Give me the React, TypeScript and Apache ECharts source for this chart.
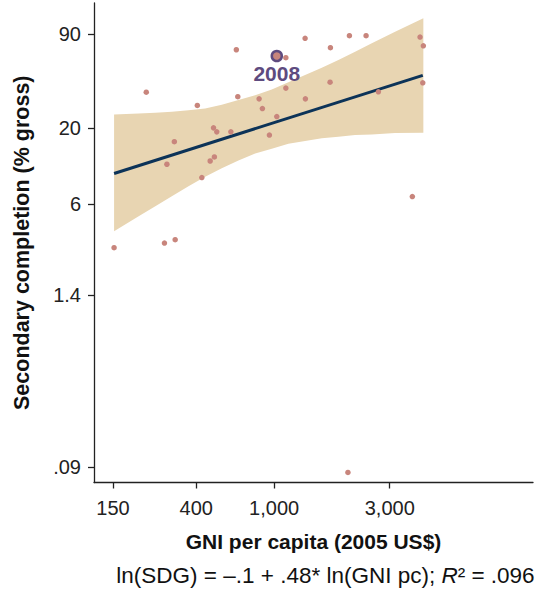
import React, { useEffect, useRef } from "react";
import * as echarts from "echarts";

// GNI per capita (2005 US$) and secondary completion (% gross)
const gniPerCapita = [641, 1440, 1148, 222, 1148, 652, 838, 1445, 405, 871, 1032, 490, 509, 601, 309, 946, 283, 471, 495, 427, 152, 275, 312, 2426, 2952, 1940, 5572, 5793, 1932, 5754, 3412, 5089, 2384];
const secondaryCompletion = [70.3, 84.4, 61.9, 35.7, 38.1, 33.2, 32.1, 32.1, 28.9, 27.5, 24.2, 20.2, 18.95, 18.95, 16.2, 18.0, 11.3, 11.9, 12.7, 9.14, 2.98, 3.21, 3.39, 88.0, 88.0, 72.6, 86.1, 74.9, 41.9, 41.5, 35.9, 6.75, 0.0824];

// highlighted year
const highlightGni = [1032];
const highlightSdg = [63.6];
const highlightLabel = "2008";

// fitted line end points
const fitGni = [152, 5754];
const fitSdg = [9.74, 46.7];

// confidence band
const bandGni = [152, 203, 247, 300, 365, 444, 540, 657, 800, 973, 1183, 1440, 1753, 2131, 2594, 3157, 4153, 5793];
const bandUpper = [25.0, 25.4, 25.7, 26.1, 26.8, 27.5, 29.2, 31.5, 34.0, 37.3, 41.9, 46.9, 52.8, 59.6, 68.2, 77.9, 93.8, 116.1];
const bandLower = [3.87, 4.93, 5.78, 6.78, 7.95, 9.25, 10.6, 12.0, 13.4, 14.5, 15.7, 16.4, 17.1, 17.5, 18.0, 18.2, 18.6, 18.7];

// ticks
const xTickValues = [150, 400, 1000, 3900];
const xTickLabels = ["150", "400", "1,000", "3,000"];
const yTickValues = [90, 20, 6, 1.4, 0.09];
const yTickLabels = ["90", "20", "6", "1.4", ".09"];

// axis ranges
const xRange = [120, 21060];
const yRange = [0.0702, 148.3];

const L = (v: number) => Math.log10(v);
const FONT = "'Liberation Sans', Arial, sans-serif";
const POINT = "#C8857C";
const PURPLE = "#5E4B7F";

function labelFor(values: number[], labels: string[]) {
  return (v: number) => {
    const i = values.findIndex((t) => Math.abs(L(t) - v) < 1e-6);
    return i >= 0 ? labels[i] : "";
  };
}

export default function App() {
  const ref = useRef<HTMLDivElement>(null);
  useEffect(() => {
    if (!ref.current) return;
    const chart = echarts.init(ref.current, undefined, { renderer: "svg" });
    const option: any = {
      animation: false,
      backgroundColor: "#ffffff",
      textStyle: { fontFamily: FONT },
      grid: { left: 94, right: 5, top: 3, bottom: 109, containLabel: false },
      xAxis: {
        type: "value",
        min: L(xRange[0]),
        max: L(xRange[1]),
        axisLine: { show: true, onZero: false, lineStyle: { color: "#222", width: 1.3 } },
        axisTick: { show: true, length: 6, customValues: xTickValues.map(L), lineStyle: { color: "#222", width: 1.3 } },
        axisLabel: {
          customValues: xTickValues.map(L),
          formatter: labelFor(xTickValues, xTickLabels),
          fontSize: 20,
          color: "#222",
          margin: 15,
          fontFamily: FONT,
        },
        splitLine: { show: false },
        name:
          "{b|GNI per capita (2005 US$)}\n{p|ln(SDG) = –.1 + .48* ln(GNI pc); }{i|R}{n|² = .096}",
        nameLocation: "middle",
        nameGap: 44,
        nameTextStyle: {
          rich: {
            b: { fontSize: 21, fontWeight: "bold", color: "#111", lineHeight: 30, fontFamily: FONT },
            p: { fontSize: 22.5, color: "#111", lineHeight: 38, fontFamily: FONT, padding: [0, 0, 0, 24] },
            n: { fontSize: 22.5, color: "#111", lineHeight: 38, fontFamily: FONT },
            i: { fontSize: 22.5, fontStyle: "italic", color: "#111", lineHeight: 38, fontFamily: FONT },
          },
        },
      },
      yAxis: {
        type: "value",
        min: L(yRange[0]),
        max: L(yRange[1]),
        axisLine: { show: true, onZero: false, lineStyle: { color: "#222", width: 1.3 } },
        axisTick: { show: true, length: 6, customValues: yTickValues.map(L), lineStyle: { color: "#222", width: 1.3 } },
        axisLabel: {
          customValues: yTickValues.map(L),
          formatter: labelFor(yTickValues, yTickLabels),
          fontSize: 20,
          color: "#222",
          margin: 13,
          fontFamily: FONT,
        },
        splitLine: { show: false },
        name: "Secondary completion (% gross)",
        nameLocation: "middle",
        nameRotate: 90,
        nameGap: 61,
        nameTextStyle: { fontSize: 21.5, fontWeight: "bold", color: "#111", fontFamily: FONT },
      },
      series: [
        {
          type: "custom",
          silent: true,
          z: 1,
          data: [[L(bandGni[0]), L(bandLower[0])]],
          renderItem: (_params: any, api: any) => {
            const pts: number[][] = [];
            for (let i = 0; i < bandGni.length; i++) pts.push(api.coord([L(bandGni[i]), L(bandUpper[i])]));
            for (let i = bandGni.length - 1; i >= 0; i--) pts.push(api.coord([L(bandGni[i]), L(bandLower[i])]));
            return { type: "polygon", shape: { points: pts }, style: { fill: "#E8D5B2", stroke: null } };
          },
        },
        {
          type: "line",
          z: 3,
          symbol: "none",
          silent: true,
          data: fitGni.map((g, i) => [L(g), L(fitSdg[i])]),
          lineStyle: { color: "#0C3358", width: 3 },
        },
        {
          type: "scatter",
          z: 4,
          symbolSize: 5.5,
          data: gniPerCapita.map((g, i) => [L(g), L(secondaryCompletion[i])]),
          itemStyle: { color: POINT, opacity: 1 },
        },
        {
          type: "scatter",
          z: 5,
          symbolSize: 10,
          data: highlightGni.map((g, i) => [L(g), L(highlightSdg[i])]),
          itemStyle: { color: POINT, borderColor: PURPLE, borderWidth: 2.5, opacity: 1 },
          label: {
            show: true,
            formatter: highlightLabel,
            position: "bottom",
            distance: 1,
            fontSize: 21,
            fontWeight: "bold",
            color: PURPLE,
            fontFamily: FONT,
          },
        },
      ],
    };
    chart.setOption(option);
    return () => chart.dispose();
  }, []);
  return (
    <div
      ref={ref}
      style={{ position: "fixed", left: 0, top: 0, width: 538, height: 592, background: "#fff" }}
    />
  );
}
